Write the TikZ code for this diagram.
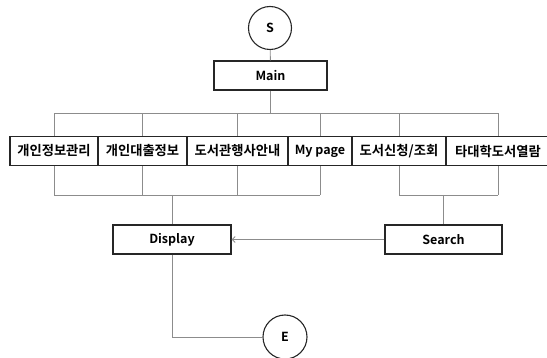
\documentclass[tikz,border=0pt]{standalone}
\usepackage{fontspec}
\setmainfont{Noto Sans CJK KR}[BoldFont={Noto Sans CJK KR Bold}]
\usetikzlibrary{arrows.meta}
\begin{document}
\begin{tikzpicture}[x=1pt,y=-1pt,
  every node/.style={font=\fontsize{12.5}{14}\selectfont\bfseries, inner sep=0pt},
  box/.style={draw=black!85, line width=1.2pt, minimum height=29pt, fill=white},
  krbox/.style={box, font=\fontsize{13.3}{15}\selectfont\bfseries},
  term/.style={draw=black!85, line width=1.1pt, circle, minimum size=43pt},
  conn/.style={draw=black!45, line width=0.9pt}]
\useasboundingbox (0,0) rectangle (547,358);
\node[term] (S) at (270,28) {S};
\node[box, minimum width=113pt] (main) at (270.5,75.5) {Main};
\node[krbox, minimum width=88pt] (b1) at (54,151) {개인정보관리};
\node[krbox, minimum width=89pt] (b2) at (142.5,151) {개인대출정보};
\node[krbox, minimum width=101pt] (b3) at (237.5,151) {도서관행사안내};
\node[box, minimum width=64pt] (b4) at (320,151) {My page};
\node[krbox, minimum width=94pt] (b5) at (399,151) {도서신청/조회};
\node[krbox, minimum width=104pt] (b6) at (498,151) {타대학도서열람};
\node[box, minimum width=118pt] (disp) at (172,239.5) {Display};
\node[box, minimum width=117pt] (srch) at (443.5,239.5) {Search};
\node[term, minimum size=44pt] (E) at (285,337) {E};
\coordinate (tb) at (0,113);
\coordinate (lb) at (0,195);
\begin{scope}[on background layer/.try]
\draw[conn] (S) -- (main);
\draw[conn] (main.south) -- (main.south |- tb);
\draw[conn] (b1.north |- tb) -- (b6.north |- tb);
\foreach \b in {b1,b2,b3,b4,b5,b6} \draw[conn] (\b.north) -- (\b.north |- tb);
\foreach \b in {b1,b2,b3,b4,b5,b6} \draw[conn] (\b.south) -- (\b.south |- lb);
\draw[conn] (b1.south |- lb) -- (b4.south |- lb);
\draw[conn] (b5.south |- lb) -- (b6.south |- lb);
\draw[conn] (disp.north |- lb) -- (disp.north);
\draw[conn] (srch.north |- lb) -- (srch.north);
\draw[conn, -{Straight Barb[length=3pt,width=6pt]}] (srch.west) -- (disp.east);
\draw[conn] (disp.south) |- (E.west);
\end{scope}
\end{tikzpicture}
\end{document}
